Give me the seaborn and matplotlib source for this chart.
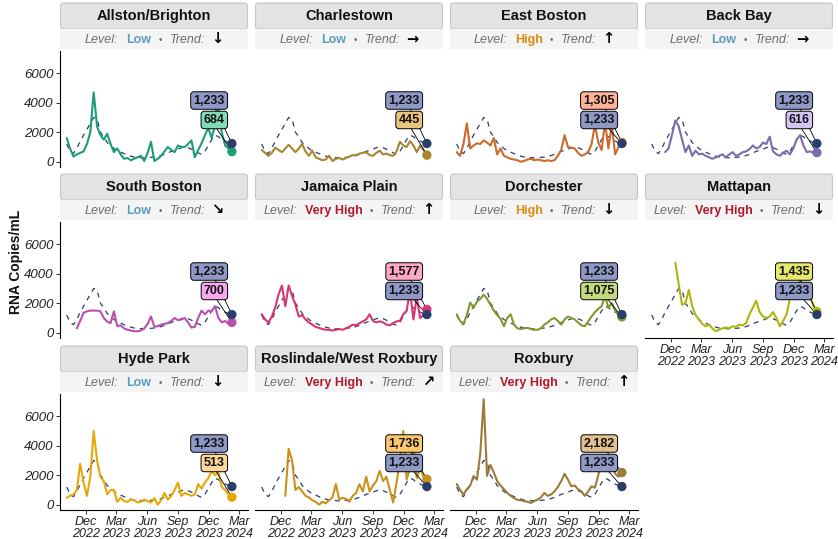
import matplotlib
matplotlib.use("Agg")
import numpy as np
import pandas as pd
import matplotlib.pyplot as plt
from matplotlib.patches import FancyBboxPatch, Rectangle
from matplotlib.transforms import IdentityTransform
import seaborn as sns

# ---- data ----
dates = pd.date_range("2022-10-04", "2024-02-08", periods=50)

boston = [1200, 700, 550, 900, 1400, 1800, 2200, 2600, 3000, 2900,
          2000, 1700, 1300, 1100, 900, 750, 650, 550, 450, 380,
          320, 300, 280, 260, 270, 300, 320, 350, 420, 500,
          600, 700, 780, 850, 950, 1000, 950, 850, 750, 600,
          500, 700, 1100, 1500, 1800, 1700, 1500, 1400, 1300, 1233]

allston = [1600, 900, 350, 500, 600, 700, 1200, 2000, 4700, 2400,
           1800, 1500, 1900, 1200, 650, 900, 500, 200, 250, 100,
           200, 300, 400, 50, 600, 1350, 50, 200, 400, 700,
           1000, 800, 650, 1100, 1000, 1000, 1200, 1450, 300, 800,
           1250, 1800, 2300, 1600, 2500, 3700, 2000, 1100, 900, 684]

charlestown = [800, 600, 400, 600, 950, 800, 650, 900, 1150, 900,
               650, 900, 1200, 700, 400, 750, 300, 200, 100, 150,
               400, 50, 200, 250, 150, 250, 350, 450, 450, 550,
               600, 650, 450, 400, 600, 750, 500, 550, 450, 400,
               700, 1350, 1100, 1000, 1400, 1100, 650, 1100, 800, 445]

east_boston = [650, 400, 1200, 2600, 900, 1100, 1250, 1200, 1450, 1300,
               1100, 1600, 500, 900, 400, 300, 200, 150, 100, 0,
               50, 150, 200, 100, 150, 100, 50, 100, 50, 100,
               400, 800, 1800, 1000, 950, 900, 600, 400, 500, 650,
               1200, 2500, 1300, 800, 2700, 900, 2500, 500, 1000, 1305]

back_bay = [np.nan, np.nan, np.nan, np.nan, 650, 900, 1800, 2800, 2400, 1500,
            650, 1100, 400, 750, 500, 550, 400, 300, 200, 300,
            400, 500, 300, 500, 650, 400, 500, 650, 700, 850,
            1100, 900, 1000, 1300, 1200, 1700, 700, 500, 400, 600,
            750, 500, 900, 1500, 1800, 1100, 650, 700, 600, 616]

south_boston = [np.nan, np.nan, np.nan, 300, 800, 1350, 1450, 1500, 1500, 1500,
                1450, 1000, 750, 650, 1450, 450, 500, 300, 200, 150,
                100, 100, 150, 300, 600, 1100, 400, 450, 550, 600,
                650, 800, 1000, 850, 900, 1000, 700, 350, 400, 1000,
                1500, 1250, 1500, 1450, 1800, 1000, 700, 800, 600, 700]

jamaica_plain = [1250, 900, 700, 1100, 1700, 2600, 3200, 1800, 3200, 2500,
                 1900, 1100, 1200, 900, 700, 550, 400, 330, 250, 200,
                 200, 150, 200, 250, 200, 300, 400, 550, 500, 650,
                 770, 900, 1250, 800, 700, 770, 700, 550, 500, 650,
                 770, 800, 1250, 1500, 2860, 900, 2400, 1000, 1200, 1577]

dorchester = [1250, 800, 600, 1200, 2050, 1700, 2100, 2300, 2580, 2300,
              1900, 1500, 1200, 950, 440, 1000, 1250, 550, 300, 250,
              300, 330, 250, 200, 200, 300, 550, 700, 900, 1000,
              800, 550, 900, 1100, 1000, 900, 700, 500, 440, 770,
              1100, 1400, 1620, 1800, 2500, 1700, 2000, 1500, 1200, 1075]

mattapan = [np.nan, np.nan, np.nan, np.nan, np.nan, np.nan, np.nan, 4750, 3300, 1900,
            2000, 2900, 1800, 1200, 900, 600, 440, 550, 300, 100,
            200, 300, 350, 300, 440, 400, 550, 500, 660, 1250,
            1700, 2170, 1400, 1100, 1000, 1100, 1400, 1000, 440, 800,
            1250, 2300, 2500, 3000, 3600, 3000, 3300, 2500, 1800, 1435]

hyde_park = [470, 600, 700, 1000, 2780, 1500, 600, 1900, 5000, 3000,
             1900, 1600, 700, 1000, 1000, 200, 470, 250, 200, 350,
             300, 150, 200, 350, 250, 150, 450, 0, 300, 800,
             350, 600, 1000, 1500, 600, 800, 700, 600, 700, 1400,
             1100, 1500, 1800, 2300, 2000, 2200, 1200, 1000, 700, 513]

roslindale = [np.nan, np.nan, np.nan, np.nan, np.nan, np.nan, np.nan, 600, 3800, 3000,
              1000, 1200, 900, 600, 500, 300, 200, 0, 200, 100,
              300, 500, 1400, 350, 470, 400, 200, 600, 800, 1400,
              900, 1900, 900, 1300, 1600, 2300, 1600, 1900, 1000, 150,
              1500, 3000, 5000, 1700, 2500, 4000, 1800, 2500, 1900, 1736]

roxbury = [1400, 1000, 700, 1050, 1300, 1950, 1700, 3500, 7150, 1950,
           2700, 2200, 1600, 1300, 1050, 800, 600, 450, 330, 300,
           250, 200, 120, 250, 350, 500, 800, 600, 700, 900,
           1200, 1600, 2100, 1700, 1250, 1300, 1050, 900, 600, 900,
           1250, 1150, 2000, 3000, 2600, 2400, 2800, 2100, 1900, 2182]

names = ["Allston/Brighton", "Charlestown", "East Boston", "Back Bay",
         "South Boston", "Jamaica Plain", "Dorchester", "Mattapan",
         "Hyde Park", "Roslindale/West Roxbury", "Roxbury"]
series = [allston, charlestown, east_boston, back_bay, south_boston,
          jamaica_plain, dorchester, mattapan, hyde_park, roslindale, roxbury]
levels = ["Low", "Low", "High", "Low", "Low", "Very High", "High",
          "Very High", "Low", "Very High", "Very High"]
trends = ["\u2193", "\u2192", "\u2191", "\u2192", "\u2198", "\u2191", "\u2193",
          "\u2193", "\u2193", "\u2197", "\u2191"]

line_colors = ["#1b9e77", "#a8862c", "#cc6a2c", "#7a6cae", "#bb4fad", "#d8366f",
               "#7f9a2e", "#b0b50a", "#e5a805", "#c8921a", "#9c7a3a"]
label_fills = ["#7fdcb7", "#e8c47e", "#ffb399", "#d4c5f5", "#f7a8ec", "#ffa8c5",
               "#c2d97e", "#e5e86a", "#ffd79a", "#ffc870", "#e3c08f"]
level_colors = {"Low": "#5a9dbd", "High": "#d98c0b", "Very High": "#b2182b"}
navy = "#2b3d6b"
boston_fill = "#8e99c8"

tick_dates = pd.to_datetime(["2022-12-01", "2023-03-01", "2023-06-01",
                             "2023-09-01", "2023-12-01", "2024-03-01"])
tick_labels = ["Dec\n2022", "Mar\n2023", "Jun\n2023", "Sep\n2023", "Dec\n2023", "Mar\n2024"]

# ---- layout ----
sns.set_style("white")
plt.rcParams["font.family"] = ["Liberation Sans", "DejaVu Sans"]

W, H = 838, 539
fig = plt.figure(figsize=(W / 100, H / 100), dpi=100)
col_left = [60, 255, 450, 645]
row_top = [51, 222, 394]
pw, ph = 188, 116
px = IdentityTransform()


def rect(x, y, w, h):
    return [x / W, 1 - (y + h) / H, w / W, h / H]


xlim = (pd.Timestamp("2022-09-14"), pd.Timestamp("2024-03-27"))
all_vals = np.concatenate([np.array(s, dtype=float) for s in series] + [np.array(boston, float)])
ymin, ymax = np.nanmin(all_vals), np.nanmax(all_vals)
yr = ymax - ymin
ylim = (ymin - 0.05 * yr, ymax + 0.05 * yr)

label_date = pd.Timestamp("2024-01-18")
anchor_date = pd.Timestamp("2023-12-08")
top_y, bot_y = 4150, 2830

renderer = fig.canvas.get_renderer()

for k, name in enumerate(names):
    r, c = divmod(k, 4)
    x0, y0 = col_left[c], row_top[r]
    ax = fig.add_axes(rect(x0, y0, pw, ph))
    vals = series[k]
    df = pd.DataFrame({"date": dates, "value": vals}).dropna()
    bdf = pd.DataFrame({"date": dates, "value": boston})

    sns.lineplot(data=bdf, x="date", y="value", ax=ax, color=navy, lw=0.9,
                 linestyle=(0, (4, 4)), errorbar=None, zorder=2)
    sns.lineplot(data=df, x="date", y="value", ax=ax, color=line_colors[k], lw=1.5,
                 errorbar=None, zorder=3)

    nb_last, bos_last = vals[-1], boston[-1]
    if nb_last > bos_last:
        nb_y, bos_y = top_y, bot_y
    else:
        nb_y, bos_y = bot_y, top_y
    for val, ly, fc in [(bos_last, bos_y, boston_fill), (nb_last, nb_y, label_fills[k])]:
        ax.plot([anchor_date, dates[-1]], [ly, val], color="black", lw=0.6, zorder=4)
        ax.text(label_date, ly, f"{val:,.0f}", ha="right", va="center", fontsize=9,
                fontweight="bold", color="#111111", zorder=6,
                bbox=dict(boxstyle="round,pad=0.22,rounding_size=0.25", fc=fc,
                          ec="black", lw=0.7))

    sns.scatterplot(x=[dates[-1]], y=[nb_last], ax=ax, color=line_colors[k], s=45,
                    edgecolor="none", zorder=7)
    sns.scatterplot(x=[dates[-1]], y=[bos_last], ax=ax, color=navy, s=45,
                    edgecolor="none", zorder=8)

    ax.set_xlim(xlim)
    ax.set_ylim(ylim)
    ax.set_xlabel("")
    ax.set_ylabel("")
    for s in ax.spines.values():
        s.set_visible(False)

    bottom = (r == 2) or (k == 7)
    if bottom:
        ax.spines["bottom"].set_visible(True)
        ax.spines["bottom"].set_color("black")
        ax.spines["bottom"].set_linewidth(0.8)
        ax.set_xticks(tick_dates, tick_labels, fontstyle="italic", fontsize=9,
                      color="#222222", linespacing=1.0)
        ax.tick_params(axis="x", length=3, width=0.7, color="#333333", pad=1.5, bottom=True)
    else:
        ax.set_xticks([])
    if c == 0:
        ax.spines["left"].set_visible(True)
        ax.spines["left"].set_color("black")
        ax.spines["left"].set_linewidth(0.8)
        ax.set_yticks([0, 2000, 4000, 6000], ["0", "2000", "4000", "6000"],
                      fontstyle="italic", fontsize=9.5, color="#222222")
        ax.tick_params(axis="y", length=3, width=0.7, color="#333333", pad=1.5, left=True)
    else:
        ax.set_yticks([])

    # strips
    title_top = y0 - 49
    fig.add_artist(FancyBboxPatch((x0 + 0.5, H - (y0 - 22)), pw - 1, 27 - 1,
                                  boxstyle="round,pad=0,rounding_size=3",
                                  transform=px, fc="#e3e3e3", ec="#c6c6c6", lw=0.8))
    fig.text(x0 + pw / 2, H - (title_top + 14), name, transform=px, ha="center",
             va="center", fontsize=10.5, fontweight="bold", color="#111111")
    fig.add_artist(Rectangle((x0, H - (y0 - 2)), pw, 20, transform=px,
                             fc="#f4f4f4", ec="none"))

    pieces = [("Level:", dict(fontstyle="italic", color="#6e6e6e", fontsize=9), 8),
              (levels[k], dict(fontweight="bold", color=level_colors[levels[k]], fontsize=9), 7),
              ("\u2022", dict(color="#6e6e6e", fontsize=7), 8),
              ("Trend:", dict(fontstyle="italic", color="#6e6e6e", fontsize=9), 6),
              (trends[k], dict(color="black", fontsize=10.5, fontweight="bold",
                               family=["DejaVu Sans"]), 0)]
    base = H - (y0 - 22 + 14)
    txts, widths = [], []
    for s, kw, gap in pieces:
        t = fig.text(0, base, s, transform=px, ha="left", va="baseline", **kw)
        txts.append(t)
        widths.append(t.get_window_extent(renderer).width)
    total = sum(widths) + sum(p[2] for p in pieces)
    xcur = x0 + pw / 2 - total / 2
    for t, w, p in zip(txts, widths, pieces):
        t.set_x(xcur)
        xcur += w + p[2]

fig.text(16, H - 262, "RNA Copies/mL", transform=px, rotation=90, ha="center",
         va="center", fontsize=10, fontweight="bold", color="#111111")

fig.savefig("out.png", dpi=100)
